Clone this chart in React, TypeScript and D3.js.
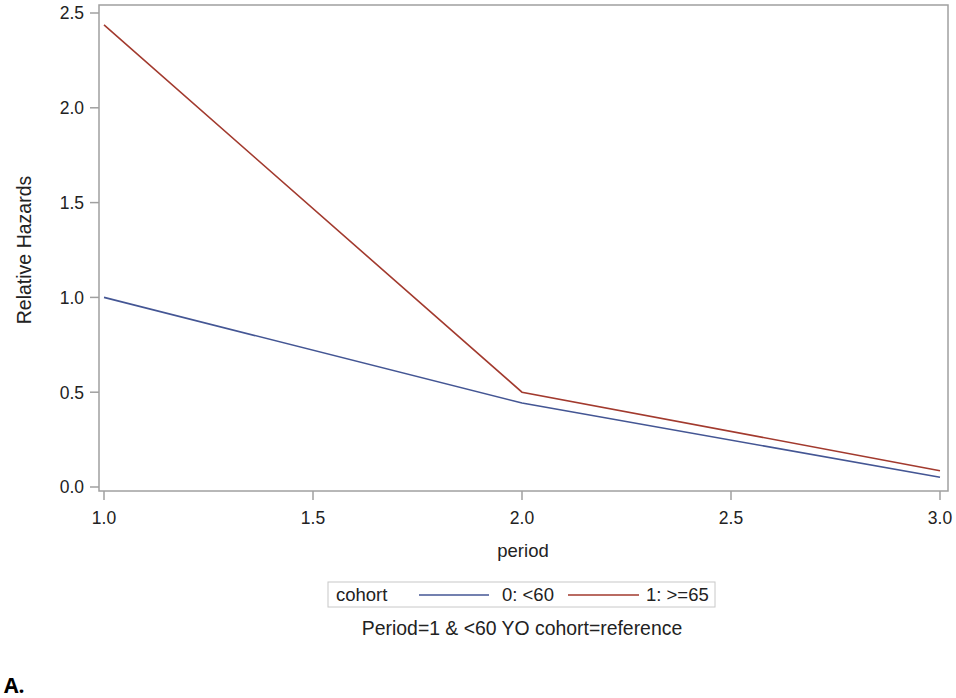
import React from "react";
import * as d3 from "d3";

const periods = [1, 2, 3];
const cohort0 = [1.0, 0.443, 0.051];
const cohort1 = [2.437, 0.5, 0.086];
const xTicks = [1.0, 1.5, 2.0, 2.5, 3.0];
const yTicks = [0.0, 0.5, 1.0, 1.5, 2.0, 2.5];
const seriesNames = ["0: <60", "1: >=65"];
const colors = ["#445694", "#A23A2E"];

export default function App() {
  const W = 956, H = 698;
  const frame = { l: 99, r: 948, t: 5, b: 491 };
  const x = d3.scaleLinear().domain([1, 3]).range([104, 940]);
  const y = d3.scaleLinear().domain([0, 2.5]).range([487, 13]);
  const line = d3.line<number>().x((_, i) => x(periods[i])).y((d) => y(d));
  const font = "'Liberation Sans', Arial, sans-serif";
  const axisColor = "#a0a0a0";
  const txt = "#222";
  return (
    <svg width={W} height={H} style={{ position: "absolute", left: 0, top: 0, background: "#fff" }} fontFamily={font}>
      <rect x={frame.l} y={frame.t} width={frame.r - frame.l} height={frame.b - frame.t} fill="none" stroke={axisColor} strokeWidth={1.5} />
      {yTicks.map((t) => (
        <g key={"y" + t}>
          <line x1={90} x2={frame.l} y1={y(t)} y2={y(t)} stroke={axisColor} strokeWidth={1.5} />
          <text x={84} y={y(t)} dy="0.36em" textAnchor="end" fontSize={17.5} fill={txt}>{t.toFixed(1)}</text>
        </g>
      ))}
      {xTicks.map((t) => (
        <g key={"x" + t}>
          <line x1={x(t)} x2={x(t)} y1={frame.b} y2={frame.b + 9} stroke={axisColor} strokeWidth={1.5} />
          <text x={x(t)} y={524} textAnchor="middle" fontSize={17.5} fill={txt}>{t.toFixed(1)}</text>
        </g>
      ))}
      <text x={523} y={557} textAnchor="middle" fontSize={18.5} fill={txt}>period</text>
      <text transform={`translate(31,250) rotate(-90)`} textAnchor="middle" fontSize={19.5} fill={txt}>Relative Hazards</text>
      {[cohort0, cohort1].map((s, i) => (
        <path key={i} d={line(s) || ""} fill="none" stroke={colors[i]} strokeWidth={1.6} />
      ))}
      <rect x={328} y={582} width={387} height={25} fill="none" stroke="#c8c8c8" strokeWidth={1} />
      <text x={336} y={601} fontSize={18.5} fill={txt}>cohort</text>
      <line x1={419} x2={489} y1={595} y2={595} stroke={colors[0]} strokeWidth={1.6} />
      <text x={502} y={601} fontSize={18.5} fill={txt}>{seriesNames[0]}</text>
      <line x1={568} x2={639} y1={595} y2={595} stroke={colors[1]} strokeWidth={1.6} />
      <text x={646} y={601} fontSize={18.5} fill={txt}>{seriesNames[1]}</text>
      <text x={522} y={635} textAnchor="middle" fontSize={19.4} fill={txt}>Period=1 &amp; &lt;60 YO cohort=reference</text>
      <text x={4} y={693} fontSize={21} fontWeight="bold" fill="#000" fontFamily="'Open Sans', sans-serif">A.</text>
    </svg>
  );
}
